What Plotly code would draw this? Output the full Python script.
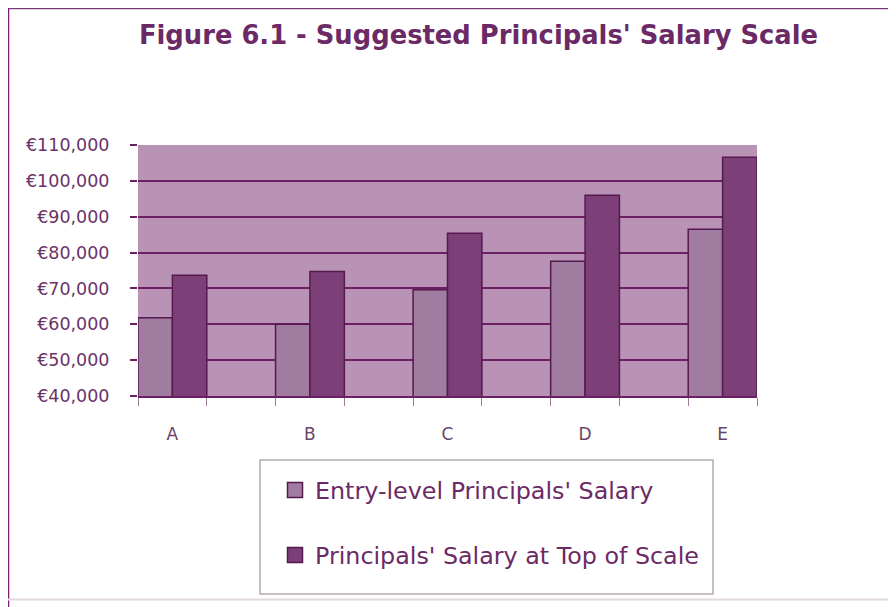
import plotly.graph_objects as go

categories = ["A", "B", "C", "D", "E"]
entry_salary = [61800, 60000, 69600, 77600, 86500]
top_salary = [73700, 74700, 85400, 96000, 106600]
series_names = ["Entry-level Principals' Salary", "Principals' Salary at Top of Scale"]
y_ticks = [40000, 50000, 60000, 70000, 80000, 90000, 100000, 110000]
y_tick_text = ["€{:,}".format(v) for v in y_ticks]

# page has an 8px body margin; work in page coordinates then offset
OFF = 8
W, H = 896 - OFF, 607 - OFF
L, R, T, B = 138 - OFF, 757 - OFF, 145 - OFF, 396 - OFF


def px(x_page):
    return (x_page - OFF - L) / (R - L)


def py(y_page):
    return (B - (y_page - OFF)) / (B - T)


xs = list(range(len(categories)))
entry_color = "#a07ca1"
top_color = "#7d3f78"
edge_color = "#55194f"

fig = go.Figure()
fig.add_trace(go.Bar(
    x=xs, y=entry_salary, name=series_names[0], showlegend=False,
    marker=dict(color=entry_color, line=dict(color=edge_color, width=1.5)),
))
fig.add_trace(go.Bar(
    x=xs, y=top_salary, name=series_names[1], showlegend=False,
    marker=dict(color=top_color, line=dict(color=edge_color, width=1.5)),
))
# legend-only entries (larger square swatches)
for name, col, grp in [(series_names[0], entry_color, "g1"), (series_names[1], top_color, "g2")]:
    fig.add_trace(go.Scatter(
        x=[None], y=[None], mode="markers", name=name, legendgroup=grp,
        marker=dict(symbol="square", size=15, color=col, line=dict(color=edge_color, width=1.5)),
    ))

font_family = "DejaVu Sans, Verdana, sans-serif"

fig.update_layout(
    width=W, height=H,
    margin=dict(l=L, r=W - R, t=T, b=H - B, autoexpand=False),
    paper_bgcolor="white",
    plot_bgcolor="#b993b6",
    barmode="group", bargap=0.5, bargroupgap=0,
    font=dict(family=font_family, color="#6b2a66"),
    title=dict(
        text="<b>Figure 6.1 - Suggested Principals' Salary Scale</b>",
        x=(478.5 - OFF) / W, xref="container", xanchor="center",
        y=1 - (35 - OFF) / H, yref="container", yanchor="middle",
        font=dict(size=25.8, color="#6b2a66", family=font_family),
    ),
    showlegend=True,
    legend=dict(
        x=px(275), y=py(468), xanchor="left", yanchor="top",
        xref="paper", yref="paper",
        bgcolor="rgba(0,0,0,0)", borderwidth=0,
        font=dict(size=23.8, color="#6b2a66", family=font_family),
        traceorder="grouped", tracegroupgap=31,
        itemclick=False,
    ),
    xaxis=dict(
        range=[-0.25, 4.25],
        tickvals=xs, ticktext=categories,
        ticks="", showgrid=False, zeroline=False,
        showline=True, linecolor="#6d1f63", linewidth=2,
        tickfont=dict(size=17, color="#6a4466", family=font_family),
        ticklabelstandoff=22,
        minor=dict(ticks="outside", tick0=-0.25, dtick=0.5, ticklen=8,
                   tickcolor="#9a8098", tickwidth=1, showgrid=False),
    ),
    yaxis=dict(
        range=[40000, 110000],
        tickvals=y_ticks, ticktext=y_tick_text,
        showgrid=True, gridcolor="#6d1f63", gridwidth=2,
        zeroline=False,
        ticks="outside", ticklen=7, tickcolor="#6d1f63", tickwidth=1.5,
        tickfont=dict(size=17.5, color="#6b3366", family=font_family),
        ticklabelstandoff=17,
    ),
    shapes=[
        # outer frame
        dict(type="line", xref="paper", yref="paper", x0=px(8), x1=px(896), y0=py(8), y1=py(8),
             line=dict(color="#7a3a78", width=2.5)),
        dict(type="line", xref="paper", yref="paper", x0=px(8), x1=px(8), y0=py(8), y1=py(607),
             line=dict(color="#7a1f78", width=2.5)),
        dict(type="line", xref="paper", yref="paper", x0=px(8), x1=px(896), y0=py(599.5), y1=py(599.5),
             line=dict(color="#e2d8de", width=2)),
        # legend box
        dict(type="rect", xref="paper", yref="paper", x0=px(260), x1=px(713), y0=py(460), y1=py(594),
             line=dict(color="#b4aab2", width=1.5), fillcolor="rgba(0,0,0,0)"),
    ],
)

fig.write_html("out.html")
